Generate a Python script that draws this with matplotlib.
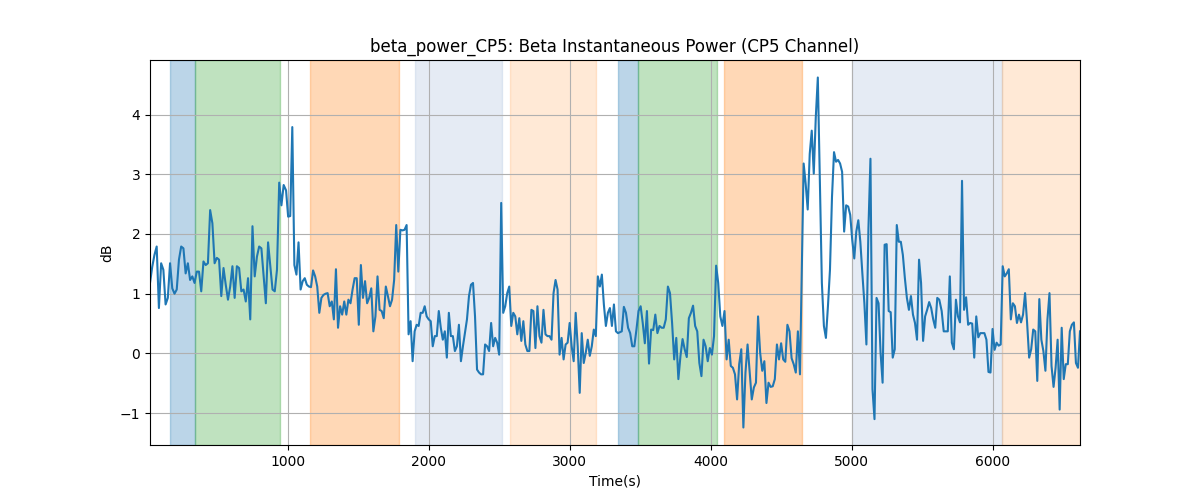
import numpy as np
import matplotlib
matplotlib.use("Agg")
import matplotlib.pyplot as plt

seg_a_t = (24, 972)
seg_a = [1.18, 1.45, 1.65, 1.79, 0.76, 1.51, 1.4, 0.82, 0.93, 1.51, 1.09, 1.0, 1.07, 1.57,
         1.79, 1.76, 1.34, 1.51, 1.23, 1.29, 1.18, 1.37, 1.37, 1.04, 1.54, 1.48, 1.51, 2.4,
         2.18, 1.51, 1.6, 1.57, 0.96, 1.43, 1.15, 0.9, 1.12, 1.46, 0.93, 1.46, 1.43, 1.04,
         1.07, 0.87, 1.26, 0.57, 2.13, 1.29, 1.62, 1.79, 1.76, 1.29, 0.84, 1.86, 1.46, 1.07,
         1.04, 1.4, 2.86, 2.48, 2.82]

seg_b_t = (989, 1844)
seg_b = [2.73, 2.29, 2.3, 3.79, 1.48, 1.32, 1.86, 1.07, 1.21, 1.26, 1.15, 1.12, 1.11, 1.39,
         1.29, 1.12, 0.68, 0.93, 0.98, 1.0, 1.01, 0.79, 0.87, 0.57, 1.41, 0.43, 0.79, 0.65,
         0.87, 0.65, 0.9, 0.84, 1.07, 1.26, 1.26, 0.48, 1.48, 0.93, 1.21, 0.84, 0.93, 1.09,
         0.37, 0.62, 1.29, 0.73, 0.71, 0.59, 1.12, 0.96, 0.79, 0.9, 1.23, 2.15, 1.37, 2.07,
         2.06, 2.07, 2.15]

seg_c_t = (1858, 3343)
seg_c = [0.32, 0.54, -0.13, 0.37, 0.48, 0.46, 0.68, 0.68, 0.79, 0.62, 0.57, 0.54, 0.12, 0.29,
         0.29, 0.71, 0.43, 0.23, 0.37, -0.07, 0.68, 0.29, 0.29, 0.04, 0.12, 0.48, -0.13, 0.12,
         0.34, 0.57, 0.96, 1.15, 1.18, 0.62, -0.27, -0.32, -0.35, -0.35, 0.15, 0.12, 0.04,
         0.51, 0.12, 0.26, 0.18, -0.02, 2.52, 0.68, 0.79, 1.01, 1.12, 0.46, 0.68, 0.62, 0.32,
         0.59, 0.21, 0.54, 0.15, 0.04, 0.04, 0.73, 0.71, 0.09, 0.79, 0.29, 0.18, 0.73, 0.32,
         0.29, 0.29, 0.23, 1.01, 1.23, 1.07, -0.02, 0.26, -0.1, 0.15, 0.18, 0.51, 0.12, -0.13,
         0.68, 0.12, -0.66, 0.34, -0.16, 0.01, 0.23, -0.04, 0.12, 0.4, 0.29, 1.29, 1.12, 1.32,
         0.82, 0.46, 0.68, 0.76, 0.46, 0.82, 0.37, 0.34]

seg_d_t = (3370, 4634)
seg_d = [0.37, 0.78, 0.68, 0.43, 0.34, 0.12, 0.12, 0.4, 0.71, 0.79, 0.51, 0.17, 0.71, -0.17,
         0.4, 0.39, 0.65, 0.34, 0.46, 0.43, 0.43, 0.57, 1.12, 1.01, 0.51, -0.1, 0.26, -0.43,
         -0.04, 0.24, 0.07, -0.06, 0.59, 0.68, 0.8, 0.46, 0.37, -0.16, -0.38, 0.23, 0.12,
         -0.13, 0.09, -0.02, 0.29, 1.47, 1.18, 0.62, 0.46, 0.71, -0.1, 0.23, -0.21, -0.24,
         -0.35, -0.77, -0.18, 0.07, -1.24, -0.32, 0.15, -0.32, -0.77, -0.57, -0.49, 0.62, 0.01,
         -0.29, -0.13, -0.83, -0.49, -0.56, -0.55, -0.43, 0.15, -0.1, 0.17, -0.1, -0.14, 0.48,
         0.37, -0.08, -0.18, -0.32, 0.37, -0.35]

seg_e_t = (4660, 5622)
seg_e = [3.18, 2.84, 2.41, 3.34, 3.73, 3.01, 3.96, 4.62, 2.9, 1.18, 0.46, 0.26, 0.79, 1.4,
         2.62, 3.37, 3.21, 3.24, 3.18, 3.04, 2.04, 2.48, 2.46, 2.32, 1.9, 1.59, 2.04, 2.23,
         1.87, 1.34, 0.84, 0.15, 2.09, 3.26, -0.6, -1.1, 0.93, 0.84, 0.01, -0.49, 1.82, 1.83,
         0.71, 0.69, -0.07, 0.07, 2.15, 1.87, 1.87, 1.65, 1.26, 0.93, 0.73, 0.96, 0.65, 0.51,
         0.23, 1.57, 1.18, 0.21, 0.62, 0.73, 0.86, 0.76, 0.57, 0.43, 0.93, 0.9]

seg_f_t = (5639, 6620)
seg_f = [0.71, 0.37, 0.37, 0.37, 1.29, 0.18, 0.07, 0.9, 0.62, 0.52, 2.89, 0.73, 0.94, 0.48,
         0.51, 0.5, -0.07, 0.62, 0.27, 0.34, 0.34, 0.34, 0.23, -0.31, -0.32, 0.41, 0.06, 0.18,
         0.13, 0.15, 1.46, 1.29, 1.34, 1.41, 0.57, 0.84, 0.79, 0.51, 0.65, 0.52, 0.65, 1.01,
         0.51, -0.07, 0.07, 0.4, 0.37, -0.46, 0.91, 0.23, 0.04, -0.29, 0.57, 1.01, -0.21,
         -0.56, -0.24, 0.23, -0.94, 0.43, -0.43, -0.18, -0.18, 0.37, 0.48, 0.52, -0.16, -0.24,
         0.37]

# event intervals (s)
span_starts = [164, 342, 1161, 1900, 2576, 3345, 3487, 4097, 5000, 6068]
span_ends = [342, 946, 1787, 2519, 3187, 3487, 4045, 4649, 6068, 6620]
span_colors = ['C0', 'C2', 'C1', 'lightsteelblue', 'C1', 'C0', 'C2', 'C1', 'lightsteelblue', 'C1']
span_alphas = [0.3, 0.3, 0.3, 0.33, 0.17, 0.3, 0.3, 0.3, 0.33, 0.17]

segments = [(seg_a_t, seg_a), (seg_b_t, seg_b), (seg_c_t, seg_c),
            (seg_d_t, seg_d), (seg_e_t, seg_e), (seg_f_t, seg_f)]
t = np.concatenate([np.linspace(a, b, len(v)) for (a, b), v in segments])
power = np.concatenate([np.array(v) for _, v in segments])

fig, ax = plt.subplots(figsize=(12, 5), dpi=100)
for s, e, c, al in zip(span_starts, span_ends, span_colors, span_alphas):
    ax.axvspan(s, e, color=c, alpha=al)
ax.plot(t, power, color='C0')
ax.set_xlim(t.min(), t.max())
ax.set_title('beta_power_CP5: Beta Instantaneous Power (CP5 Channel)')
ax.set_xlabel('Time(s)')
ax.set_ylabel('dB')
ax.grid(True)
fig.savefig('out.png')
